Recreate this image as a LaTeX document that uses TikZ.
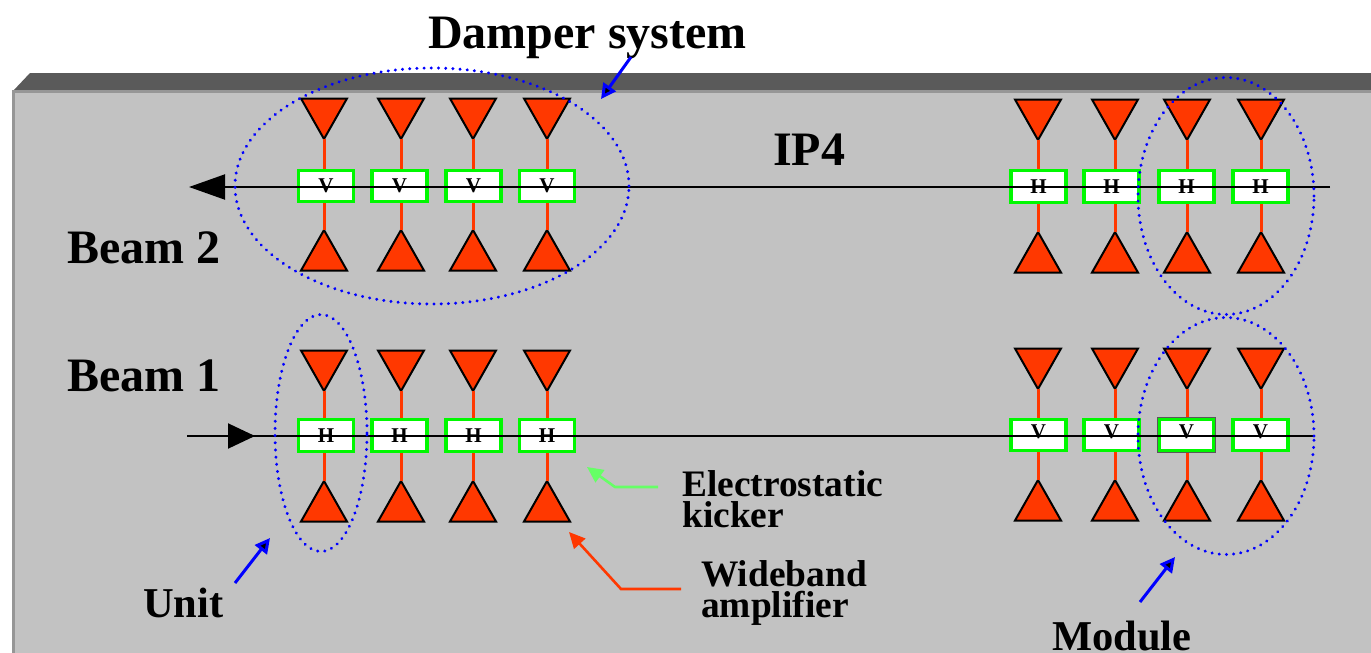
\documentclass[tikz,border=0pt]{standalone}
\usepackage{fontspec}
\setmainfont{Liberation Serif}
\usepackage{xcolor}
\usetikzlibrary{shapes.geometric,arrows.meta,positioning}
\definecolor{ampred}{HTML}{FF3800}
\definecolor{kickgreen}{HTML}{00F800}
\definecolor{lightgreen}{HTML}{66FF66}
\definecolor{wallgray}{HTML}{C2C2C2}
\definecolor{topgray}{HTML}{5A5A5A}
\definecolor{edgegray}{HTML}{969696}

\tikzset{
  ampdown/.style = {isosceles triangle, isosceles triangle stretches, shape border rotate=-90,
    minimum width=46pt, minimum height=40.5pt, inner sep=0pt, outer sep=0pt, draw=black,
    line width=2pt, line join=miter, fill=ampred, anchor=apex},
  ampup/.style = {ampdown, shape border rotate=90},
  kicker/.style = {draw=kickgreen, fill=white, line width=3.4pt, minimum width=55pt,
    minimum height=31.5pt, inner sep=0pt, outer sep=0pt, font=\bfseries\fontsize{21}{21}\selectfont},
  feed/.style = {ampred, line width=3pt, shorten >=1.5pt},
  beam/.style = {black, line width=2pt},
  group/.style = {ellipse, draw=blue, line width=3.2pt, line cap=round,
    dash pattern=on 0.1pt off 7.1pt, inner sep=0pt, outer sep=0pt},
  pointer/.style = {blue, line width=3pt, -{Triangle[length=15pt,width=15pt,fill=black]}},
  callout/.style = {line width=2.6pt, -{Triangle[length=16pt,width=15pt]}},
  bigtext/.style = {inner sep=0pt, anchor=base west, font=\bfseries\fontsize{48}{48}\selectfont},
  midtext/.style = {inner sep=0pt, anchor=base west, font=\bfseries\fontsize{42.5}{42.5}\selectfont},
  smalltext/.style = {inner sep=0pt, anchor=base west, align=left, font=\bfseries\fontsize{37.4}{31}\selectfont}
}

\begin{document}
\begin{tikzpicture}[x=1pt, y=-1pt]
  \useasboundingbox (0,0) rectangle (1371,653);

  % tunnel wall
  \fill[topgray] (13,91) -- (30,73) -- (1371,73) -- (1371,91) -- cycle;
  \fill[wallgray] (13,91) rectangle (1371,653);
  \draw[edgegray, line width=2.5pt] (13.5,653) -- (13.5,91.5) -- (1371,91.5);

  % beam 2, V units
  \begin{scope}[shift={(0,186)}]
    \foreach \n/\x/\k in {1/324/326,2/401/399.5,3/473/473.5,4/547/547} {
      \node[ampdown] (atl\n) at (\x,-47) {};
      \node[ampup] (abl\n) at (\x,44) {};
      \node[kicker] (ktl\n) at (\k,0) {\raisebox{1pt}{V}};
      \draw[feed] (atl\n.apex) -- (atl\n.apex |- ktl\n.north);
      \draw[feed] (abl\n.apex) -- (abl\n.apex |- ktl\n.south);
    }
  \end{scope}

  % beam 2, H units
  \begin{scope}[shift={(0,187)}]
    \foreach \n/\x/\k in {1/1038/1038.5,2/1115/1111.5,3/1187/1186.5,4/1261/1260.5} {
      \node[ampdown] (atr\n) at (\x,-47) {};
      \node[ampup] (abr\n) at (\x,45) {};
      \node[kicker] (ktr\n) at (\k,-0.5) {\raisebox{-2pt}{H}};
      \draw[feed] (atr\n.apex) -- (atr\n.apex |- ktr\n.north);
      \draw[feed] (abr\n.apex) -- (abr\n.apex |- ktr\n.south);
    }
  \end{scope}

  % beam 1, H units
  \begin{scope}[shift={(0,436)}]
    \foreach \n/\x/\k in {1/324/326,2/401/399.5,3/473/473.5,4/547/547} {
      \node[ampdown] (ctl\n) at (\x,-45) {};
      \node[ampup] (cbl\n) at (\x,45) {};
      \node[kicker] (kbl\n) at (\k,-0.5) {H};
      \draw[feed] (ctl\n.apex) -- (ctl\n.apex |- kbl\n.north);
      \draw[feed] (cbl\n.apex) -- (cbl\n.apex |- kbl\n.south);
    }
  \end{scope}

  % beam 1, V units
  \begin{scope}[shift={(0,435)}]
    \foreach \n/\x/\k in {1/1038/1038.5,2/1115/1111.5,3/1187/1186.5,4/1261/1260.5} {
      \node[ampdown] (ctr\n) at (\x,-46) {};
      \node[ampup] (cbr\n) at (\x,45) {};
      \node[kicker] (kbr\n) at (\k,0) {\raisebox{6pt}{V}};
      \draw[feed] (ctr\n.apex) -- (ctr\n.apex |- kbr\n.north);
      \draw[feed] (cbr\n.apex) -- (cbr\n.apex |- kbr\n.south);
    }
  \end{scope}
  \draw[black!65, line width=0.8pt] ([shift={(-1.8,-1.8)}]kbr3.north west) rectangle ([shift={(1.8,1.8)}]kbr3.south east);

  % beams
  \coordinate (b2in) at (1330,187);
  \coordinate (b2out) at (189,187);
  \coordinate (b1in) at (187,436);
  \coordinate (b1out) at (1315,436);
  \coordinate (b1tip) at (255,436);
  \draw[beam, -{Triangle[length=36pt,width=25pt]}] (b2in) -- (b2out);
  \draw[beam] (b1in) -- (b1out);
  \draw[beam, -{Triangle[length=27pt,width=25pt]}] (b1in) -- (b1tip);

  % groups
  \node[group, minimum width=394pt, minimum height=236pt] (damper) at (432,186) {};
  \node[group, minimum width=176pt, minimum height=237pt] (modtop) at (1226,196) {};
  \node[group, minimum width=176pt, minimum height=237pt] (module) at (1226,436) {};
  \node[group, minimum width=92pt, minimum height=237pt] (unit) at (321,433) {};

  % labels
  \node[bigtext] (ttl) at (428,48) {Damper system};
  \node[bigtext] (ip) at (773,165) {IP4};
  \node[bigtext] (bb) at (67,263) {Beam 2};
  \node[bigtext] (ba) at (67,391) {Beam 1};
  \node[midtext] (un) at (143,617) {Unit};
  \node[midtext] (md) at (1052,650) {Module};
  \node[smalltext] (ek) at (682,527) {Electrostatic\\kicker};
  \node[smalltext] (wa) at (701,617) {Wideband\\amplifier};

  % pointers
  \coordinate (p1) at (631,57);
  \coordinate (t1) at (601,99);
  \coordinate (p2) at (235,583);
  \coordinate (t2) at (270,538);
  \coordinate (p3) at (1140,602);
  \coordinate (t3) at (1175,557);
  \draw[pointer] (p1) -- (t1);
  \draw[pointer] (p2) -- (t2);
  \draw[pointer] (p3) -- (t3);
  \coordinate (p4) at (658,487);
  \coordinate (m4) at (615,487);
  \coordinate (t4) at (587,467);
  \draw[callout, lightgreen] (p4) -- (m4) -- (t4);
  \coordinate (p5) at (681,589);
  \coordinate (m5) at (621,589);
  \coordinate (t5) at (569,532);
  \draw[callout, ampred] (p5) -- (m5) -- (t5);
\end{tikzpicture}
\end{document}
